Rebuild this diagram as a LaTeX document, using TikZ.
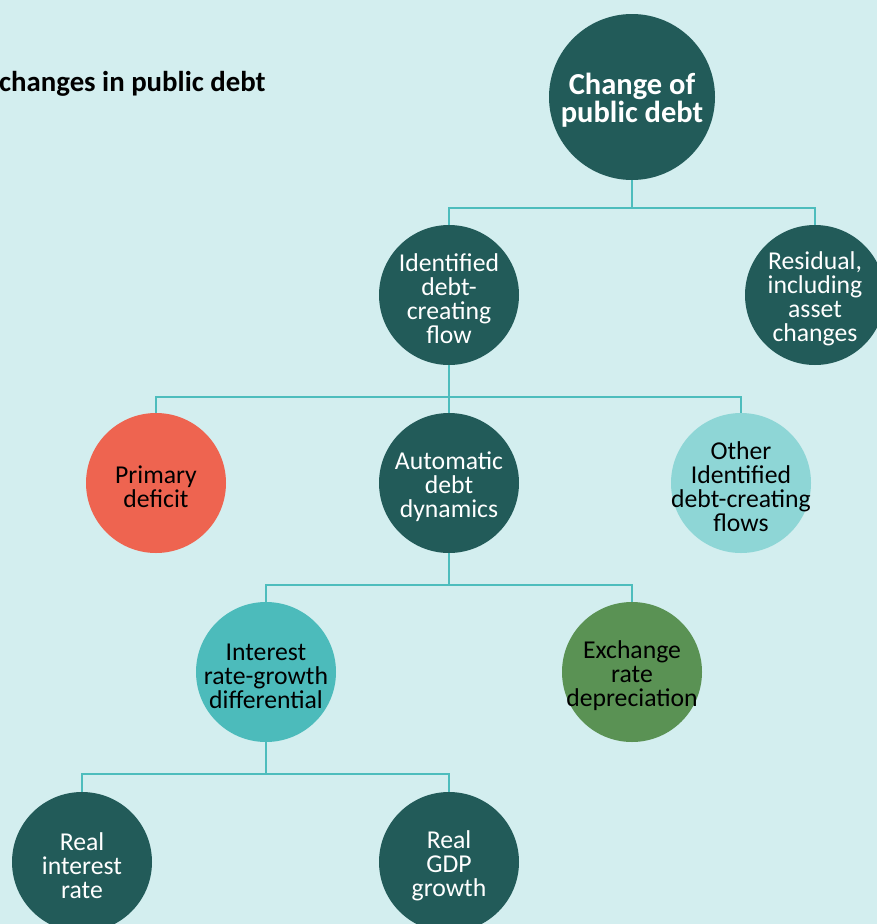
\documentclass[tikz,border=0pt]{standalone}
\usepackage{fontspec}
\setmainfont{Carlito}
\definecolor{bg}{HTML}{D3EEEF}
\definecolor{darkteal}{HTML}{225B59}
\definecolor{redc}{HTML}{EE6450}
\definecolor{lightteal}{HTML}{8ED6D6}
\definecolor{midteal}{HTML}{4CBBBB}
\definecolor{greenc}{HTML}{5A9254}
\definecolor{conncol}{HTML}{4DBDBD}
\begin{document}
\begin{tikzpicture}[x=1pt,y=-1pt,
  bubble/.style={circle,minimum size=140pt,inner sep=0pt},
  darkb/.style={bubble,fill=darkteal},
  btext/.style={inner sep=0pt,align=center,font=\fontsize{25.7}{24}\selectfont},
  wtext/.style={btext,text=white},
  conn/.style={draw=conncol,line width=2.6pt}]
\useasboundingbox (0,0) rectangle (877,924);
\clip (0,0) rectangle (877,924);
\fill[bg] (0,0) rectangle (877,924);

\node[anchor=base west,font=\fontsize{28.8}{30}\selectfont\bfseries,inner sep=0pt] (title) at (-1,91) {changes in public debt};

\coordinate (b1) at (632,208);
\coordinate (b2) at (449,397);
\coordinate (b3) at (449,585);
\coordinate (b4) at (266,774);

% circles
\node[circle,minimum size=166pt,inner sep=0pt,fill=darkteal] (top) at (632,97) {};
\node[darkb] (ident) at (449,295) {};
\node[darkb] (resid) at (815,295) {};
\node[bubble,fill=redc] (prim) at (156,483) {};
\node[darkb] (auto) at (449,483) {};
\node[bubble,fill=lightteal] (other) at (741,483) {};
\node[bubble,fill=midteal] (irgd) at (266,672) {};
\node[bubble,fill=greenc] (exch) at (632,672) {};
\node[darkb] (rir) at (82,862) {};
\node[darkb] (gdp) at (449,862) {};

% texts
\node[inner sep=0pt,align=center,text=white,font=\fontsize{30.5}{27.5}\selectfont\bfseries] (topT) at ([yshift=-3pt]top.center) {Change of\\public debt};
\node[wtext] (identT) at ([yshift=-4pt]ident.center) {Identified\\debt-\\creating\\flow};
\node[wtext] (residT) at ([yshift=-4pt]resid.center) {Residual,\\including\\asset\\changes};
\node[btext] (primT) at ([yshift=-4pt]prim.center) {Primary\\deficit};
\node[wtext] (autoT) at ([yshift=-4pt]auto.center) {Automatic\\debt\\dynamics};
\node[btext] (otherT) at ([yshift=-4pt]other.center) {Other\\Identified\\debt-creating\\flows};
\node[btext] (irgdT) at ([yshift=-4pt]irgd.center) {Interest\\rate-growth\\differential};
\node[btext] (exchT) at ([yshift=-4pt]exch.center) {Exchange\\rate\\depreciation};
\node[wtext] (rirT) at ([yshift=-4pt]rir.center) {Real\\interest\\rate};
\node[wtext] (gdpT) at ([yshift=-4pt]gdp.center) {Real\\GDP\\growth};

% connectors
\draw[conn] (top.south) -- (b1);
\draw[conn] (ident.north) |- (b1) -| (resid.north);
\draw[conn] (ident.south) -- (b2);
\draw[conn] (prim.north) |- (b2) -| (other.north);
\draw[conn] (b2) -- (auto.north);
\draw[conn] (auto.south) -- (b3);
\draw[conn] (irgd.north) |- (b3) -| (exch.north);
\draw[conn] (irgd.south) -- (b4);
\draw[conn] (rir.north) |- (b4) -| (gdp.north);
\end{tikzpicture}
\end{document}
